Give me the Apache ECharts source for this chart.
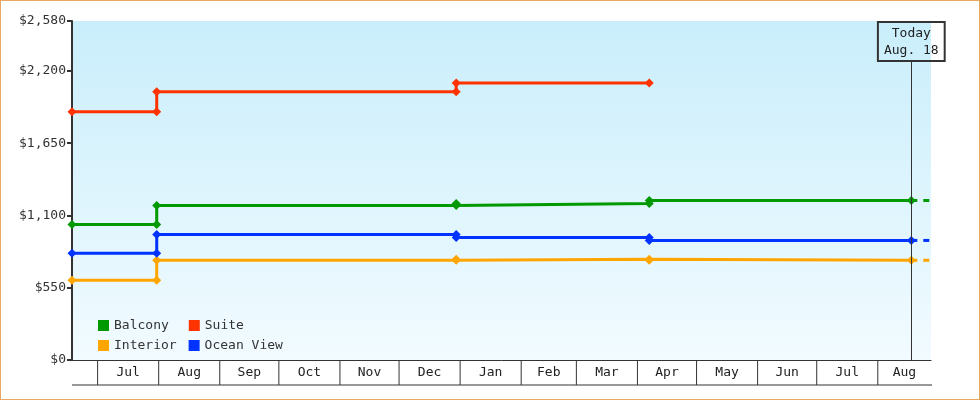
<!DOCTYPE html>
<html>
<head>
<meta charset="utf-8">
<script src="https://cdn.jsdelivr.net/npm/echarts@6/dist/echarts.min.js"></script>
<style>
html,body{margin:0;padding:0;background:#fff}
#chart{width:978px;height:398px;border:1px solid #e8a860}
</style>
</head>
<body>
<div id="chart"></div>
<script>
// change dates (each price holds until the next date)
var dates = ['2013-06-18', '2013-07-31', '2013-12-30', '2014-04-07', '2014-08-18'];
var today = '2014-08-18';
var axisEnd = '2014-08-28';
var suite = [1889, 2041, 2109];           // ends at Apr
var balcony = [1032, 1176, 1191, 1214];
var oceanView = [812, 956, 933, 910];
var interior = [607, 759, 766, 759];
var months = ['Jul','Aug','Sep','Oct','Nov','Dec','Jan','Feb','Mar','Apr','May','Jun','Jul','Aug'];
var monthStarts = ['2013-07-01','2013-08-01','2013-09-01','2013-10-01','2013-11-01','2013-12-01',
    '2014-01-01','2014-02-01','2014-03-01','2014-04-01','2014-05-01','2014-06-01','2014-07-01','2014-08-01','2014-09-01'];

var FONT = 'DejaVu Sans Mono';
function t(s){ return +new Date(s + 'T00:00:00Z'); }

// build stepped point list: each value runs to the next date, with a jump there
function steps(vals, lastDate){
    var pts = [];
    for (var i = 0; i < vals.length; i++) {
        pts.push([t(dates[i]), vals[i]]);
        var end = i + 1 < vals.length ? dates[i + 1] : lastDate;
        pts.push([t(end), vals[i]]);
    }
    return pts;
}

var myChart = echarts.init(document.getElementById('chart'));

function lineSeries(name, vals, color, lastDate){
    return {
        name: name, type: 'line', data: steps(vals, lastDate),
        symbol: 'diamond', symbolSize: 9, showSymbol: true,
        lineStyle: {color: color, width: 3}, itemStyle: {color: color},
        animation: false, z: 3
    };
}
function dashSeries(name, vals, color){
    var v = vals[vals.length - 1];
    return {
        name: name + '-ext', type: 'line', data: [[t(today), v], [t(axisEnd), v]],
        symbol: 'none', lineStyle: {color: color, width: 3, type: [6, 6]},
        animation: false, z: 2
    };
}

var labelData = [];
for (var i = 0; i < months.length; i++) {
    var a = t(monthStarts[i]), b = Math.min(t(monthStarts[i + 1]), t(axisEnd));
    labelData.push([(a + b) / 2, 0, months[i], a]);
}

var series = [
    lineSeries('Balcony', balcony, '#009900', today),
    lineSeries('Suite', suite, '#ff3300', dates[3]),
    lineSeries('Interior', interior, '#ffa500', today),
    lineSeries('Ocean View', oceanView, '#0033ff', today),
    dashSeries('Balcony', balcony, '#009900'),
    dashSeries('Interior', interior, '#ffa500'),
    dashSeries('Ocean View', oceanView, '#0033ff'),
    {
        type: 'custom', data: labelData, clip: false, silent: true, z: 5,
        renderItem: function(params, api){
            var p = api.coord([api.value(0), 0]);
            var s = api.coord([api.value(3), 0]);
            var ch = [{type: 'text', style: {text: labelData[params.dataIndex][2], x: p[0], y: p[1] + 13,
                align: 'center', verticalAlign: 'middle', fill: '#222', font: '13px "' + FONT + '"'}},
                {type: 'line', shape: {x1: s[0], y1: p[1], x2: s[0], y2: p[1] + 25},
                style: {stroke: '#333', lineWidth: 1}}];
            if (params.dataIndex === 0) {
                ch.push({type: 'line', shape: {x1: 71, y1: p[1] + 25, x2: 931, y2: p[1] + 25},
                    style: {stroke: '#333', lineWidth: 1}});
            }
            return {type: 'group', children: ch};
        }
    },
    {
        type: 'line', data: [], silent: true,
        markLine: {
            symbol: 'none', silent: true, animation: false,
            lineStyle: {color: '#333', width: 1, type: 'solid'},
            label: {show: true, position: 'end', formatter: 'Today\nAug. 18', distance: 0,
                color: '#222', fontFamily: FONT, fontSize: 13, lineHeight: 17,
                backgroundColor: 'rgba(255,255,255,0)', borderColor: '#333', borderWidth: 1,
                padding: [3, 6, 2, 6]},
            data: [[{coord: [t(today), 0]}, {coord: [t(today), 2276]}]]
        }
    }
];

option = {
    animation: false,
    grid: {
        left: 71, right: 48, top: 20, bottom: 39, show: true, borderWidth: 0,
        backgroundColor: new echarts.graphic.LinearGradient(0, 0, 0, 1, [
            {offset: 0, color: '#c9eefb'}, {offset: 1, color: '#f2fbff'}])
    },
    legend: [
        {data: ['Balcony', 'Suite'], left: 92, top: 313, itemWidth: 11, itemHeight: 11, itemGap: 20,
            icon: 'rect', textStyle: {fontFamily: FONT, fontSize: 13, color: '#333'}, selectedMode: false},
        {data: ['Interior', 'Ocean View'], left: 92, top: 333, itemWidth: 11, itemHeight: 11, itemGap: 12,
            icon: 'rect', textStyle: {fontFamily: FONT, fontSize: 13, color: '#333'}, selectedMode: false}
    ],
    xAxis: {
        type: 'time', min: t(dates[0]), max: t(axisEnd),
        axisLine: {lineStyle: {color: '#333', width: 1}},
        axisTick: {show: false}, axisLabel: {show: false}, splitLine: {show: false}
    },
    yAxis: {
        type: 'value', min: 0, max: 2580, interval: 550,
        axisLine: {show: true, lineStyle: {color: '#333', width: 2}},
        axisTick: {show: true, length: 5, lineStyle: {color: '#333', width: 2}},
        splitLine: {show: false},
        axisLabel: {fontFamily: FONT, fontSize: 13, color: '#333', margin: 6,
            formatter: function(v){ return '$' + v.toLocaleString('en-US'); }}
    },
    series: series
};
myChart.setOption(option);
</script>
</body>
</html>
